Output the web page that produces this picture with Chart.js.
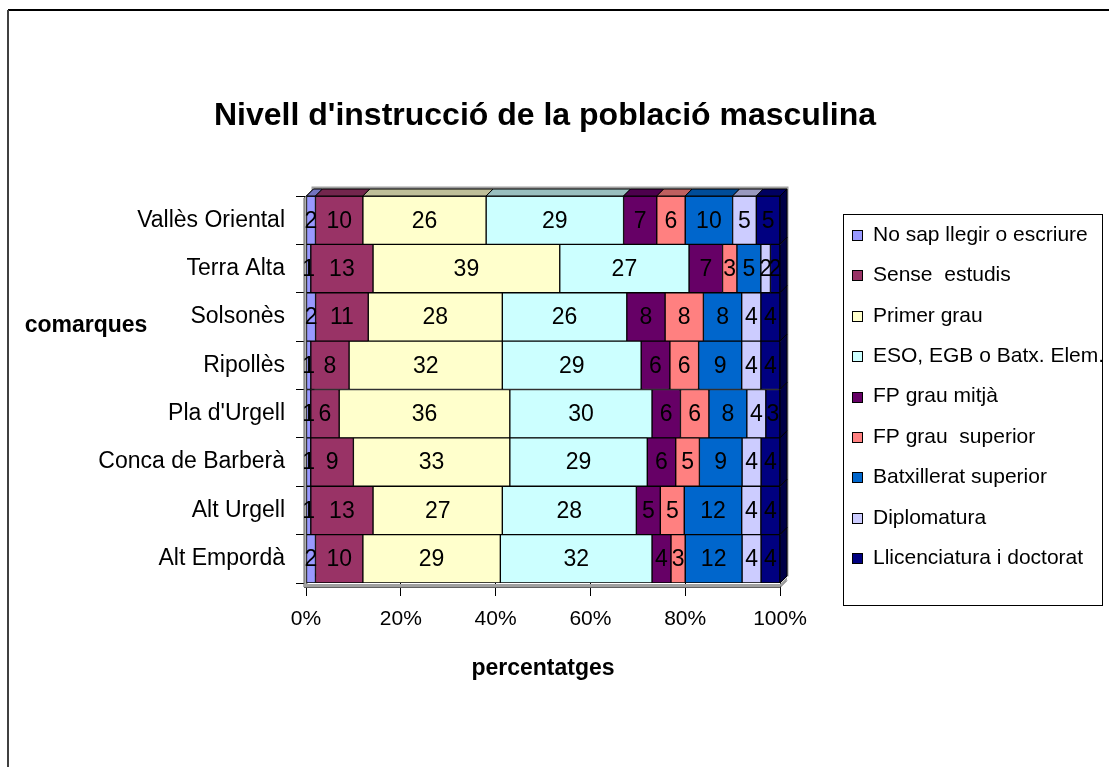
<!DOCTYPE html>
<html>
<head>
<meta charset="utf-8">
<script src="https://cdn.jsdelivr.net/npm/chart.js@4/dist/chart.umd.min.js"></script>
<style>
  body { margin: 0; background: #fff; }
  #wrap { width: 1109px; height: 767px; }
</style>
</head>
<body>
<div id="wrap"><canvas id="nivellChart" width="1109" height="767"></canvas></div>
<script>
document.addEventListener("DOMContentLoaded", () => {

    const comarques = ["Vallès Oriental", "Terra Alta", "Solsonès", "Ripollès",
        "Pla d'Urgell", "Conca de Barberà", "Alt Urgell", "Alt Empordà"];

    const nivells = ["No sap llegir o escriure", "Sense  estudis", "Primer grau",
        "ESO, EGB o Batx. Elem.", "FP grau mitjà", "FP grau  superior",
        "Batxillerat superior", "Diplomatura", "Llicenciatura i doctorat"];

    const colors = ["#9999FF", "#993366", "#FFFFCC", "#CCFFFF", "#660066",
        "#FF8080", "#0066CC", "#CCCCFF", "#000080"];

    // percentatges per comarca (same order as comarques)
    const noSap = [2, 1, 2, 1, 1, 1, 1, 2];
    const senseEstudis = [10, 13, 11, 8, 6, 9, 13, 10];
    const primerGrau = [26, 39, 28, 32, 36, 33, 27, 29];
    const esoEgb = [29, 27, 26, 29, 30, 29, 28, 32];
    const fpMitja = [7, 7, 8, 6, 6, 6, 5, 4];
    const fpSuperior = [6, 3, 8, 6, 6, 5, 5, 3];
    const batxSuperior = [10, 5, 8, 9, 8, 9, 12, 12];
    const diplomatura = [5, 2, 4, 4, 4, 4, 4, 4];
    const llicenciatura = [5, 2, 4, 4, 3, 4, 4, 4];

    const xTicks = ["0%", "20%", "40%", "60%", "80%", "100%"];

    const series = [noSap, senseEstudis, primerGrau, esoEgb, fpMitja,
        fpSuperior, batxSuperior, diplomatura, llicenciatura];

    // 100% stacked: each row is scaled to its own total
    const totals = comarques.map((c, i) => series.reduce((s, arr) => s + arr[i], 0));

    const FONT = "'Liberation Sans', Arial, sans-serif";
    const DEPTH = 7;

    function darker(hex, f) {
        const n = parseInt(hex.slice(1), 16);
        const r = Math.round(((n >> 16) & 255) * f);
        const g = Math.round(((n >> 8) & 255) * f);
        const b = Math.round((n & 255) * f);
        return `rgb(${r},${g},${b})`;
    }

    const datasets = series.map((arr, k) => ({
        label: nivells[k],
        rawValues: arr,
        data: arr.map((v, i) => v / totals[i] * 100),
        backgroundColor: colors[k],
        borderColor: "#000000",
        borderWidth: 1,
        borderSkipped: false,
        barPercentage: 1,
        categoryPercentage: 1
    }));

    // 3D look, title, legend and frame
    const extrasPlugin = {
        id: "extras",
        beforeDatasetsDraw(chart) {
            const { ctx, chartArea: a } = chart;
            const d = DEPTH;
            ctx.save();
            ctx.fillStyle = "#ffffff";
            ctx.fillRect(a.left + d, a.top - d, a.right - a.left, a.bottom - a.top);
            ctx.lineWidth = 3;
            ctx.strokeStyle = "#a0a0a0";
            ctx.strokeRect(a.left + d, a.top - d - 1, a.right - a.left, a.bottom - a.top);
            ctx.lineWidth = 1;
            ctx.strokeStyle = "#606060";
            // left wall
            ctx.fillStyle = "#b0b0b0";
            ctx.beginPath();
            ctx.moveTo(a.left - 2, a.top + 2);
            ctx.lineTo(a.left + d, a.top - d);
            ctx.lineTo(a.left + d, a.bottom - d);
            ctx.lineTo(a.left - 2, a.bottom + 4);
            ctx.closePath();
            ctx.fill();
            ctx.stroke();
            ctx.restore();
        },
        afterDatasetsDraw(chart) {
            const { ctx, chartArea: a } = chart;
            const d = DEPTH;
            const last = chart.data.datasets.length - 1;
            ctx.save();
            ctx.lineWidth = 1;
            ctx.strokeStyle = "#000000";
            // top faces of the first row
            chart.data.datasets.forEach((ds, k) => {
                const el = chart.getDatasetMeta(k).data[0];
                const top = el.y - el.height / 2;
                ctx.fillStyle = darker(colors[k], 0.75);
                ctx.beginPath();
                ctx.moveTo(el.base, top);
                ctx.lineTo(el.x, top);
                ctx.lineTo(el.x + d, top - d);
                ctx.lineTo(el.base + d, top - d);
                ctx.closePath();
                ctx.fill();
                ctx.stroke();
            });
            // side faces of the last segment of every row
            chart.getDatasetMeta(last).data.forEach(el => {
                const top = el.y - el.height / 2;
                const bottom = el.y + el.height / 2;
                ctx.fillStyle = darker(colors[last], 0.55);
                ctx.beginPath();
                ctx.moveTo(el.x, top);
                ctx.lineTo(el.x + d, top - d);
                ctx.lineTo(el.x + d, bottom - d);
                ctx.lineTo(el.x, bottom);
                ctx.closePath();
                ctx.fill();
                ctx.stroke();
            });
            // floor front edge
            ctx.fillStyle = "#a0a0a0";
            ctx.beginPath();
            ctx.moveTo(a.left - 2, a.bottom + 1);
            ctx.lineTo(a.right, a.bottom + 1);
            ctx.lineTo(a.right + d, a.bottom + 1 - d);
            ctx.lineTo(a.right + d, a.bottom + 4 - d);
            ctx.lineTo(a.right, a.bottom + 4);
            ctx.lineTo(a.left - 2, a.bottom + 4);
            ctx.closePath();
            ctx.fill();
            ctx.strokeStyle = "#606060";
            ctx.beginPath();
            ctx.moveTo(a.left - 2, a.bottom + 4.5);
            ctx.lineTo(a.right, a.bottom + 4.5);
            ctx.lineTo(a.right + d, a.bottom + 4.5 - d);
            ctx.stroke();
            // value labels
            ctx.fillStyle = "#000000";
            ctx.font = "23px " + FONT;
            ctx.textAlign = "center";
            ctx.textBaseline = "middle";
            chart.data.datasets.forEach((ds, k) => {
                chart.getDatasetMeta(k).data.forEach((el, i) => {
                    ctx.fillText(String(ds.rawValues[i]), (el.x + el.base) / 2, el.y + 1);
                });
            });
            ctx.restore();
        },
        afterDraw(chart) {
            const { ctx } = chart;
            ctx.save();
            // outer frame
            ctx.fillStyle = "#000000";
            ctx.fillRect(8, 9, 1101, 2);
            ctx.fillStyle = "#404040";
            ctx.fillRect(7, 10, 2, 757);
            // chart title
            ctx.fillStyle = "#000000";
            ctx.textAlign = "center";
            ctx.textBaseline = "middle";
            ctx.font = "bold 32px " + FONT;
            ctx.fillText("Nivell d'instrucció de la població masculina", 545, 116);
            // y axis title
            ctx.font = "bold 23px " + FONT;
            ctx.fillText("comarques", 86, 326);
            // legend
            ctx.lineWidth = 1;
            ctx.strokeStyle = "#000000";
            ctx.strokeRect(843.5, 214.5, 259, 391);
            ctx.font = "21px " + FONT;
            ctx.textAlign = "left";
            chart.data.datasets.forEach((ds, k) => {
                const y = 234 + k * 40.4;
                const ty = Math.round(y);
                ctx.fillStyle = ds.backgroundColor;
                ctx.fillRect(852, ty - 4, 11, 11);
                ctx.strokeRect(852.5, ty - 3.5, 10, 10);
                ctx.fillStyle = "#000000";
                ctx.fillText(ds.label, 873, y + 1);
            });
            ctx.restore();
        }
    };

    new Chart(document.getElementById("nivellChart"), {
        type: "bar",
        data: {
            labels: comarques,
            datasets: datasets
        },
        options: {
            indexAxis: "y",
            responsive: false,
            animation: false,
            layout: { padding: { left: 0, right: 329, top: 196, bottom: 0 } },
            plugins: {
                legend: { display: false },
                tooltip: { enabled: false },
                title: { display: false }
            },
            scales: {
                x: {
                    stacked: true,
                    min: 0,
                    max: 100,
                    afterFit: scale => { scale.height = 184; },
                    afterBuildTicks: scale => {
                        scale.ticks = xTicks.map(t => ({ value: parseFloat(t) }));
                    },
                    ticks: {
                        color: "#000000",
                        font: { family: FONT, size: 21 },
                        padding: 11,
                        maxRotation: 0,
                        callback: (v, i) => xTicks[i]
                    },
                    grid: {
                        drawOnChartArea: false,
                        drawTicks: true,
                        tickLength: 13,
                        color: "#000000"
                    },
                    border: { display: false },
                    title: {
                        display: true,
                        text: "percentatges",
                        color: "#000000",
                        font: { family: FONT, size: 23, weight: "bold" },
                        padding: { top: 0, bottom: 85 }
                    }
                },
                y: {
                    stacked: true,
                    afterFit: scale => { scale.width = 306; },
                    ticks: {
                        color: "#000000",
                        font: { family: FONT, size: 23 },
                        padding: 11
                    },
                    grid: {
                        drawOnChartArea: false,
                        drawTicks: true,
                        tickLength: 10,
                        color: "#000000"
                    },
                    border: { display: false }
                }
            }
        },
        plugins: [extrasPlugin]
    });

});
</script>
</body>
</html>
